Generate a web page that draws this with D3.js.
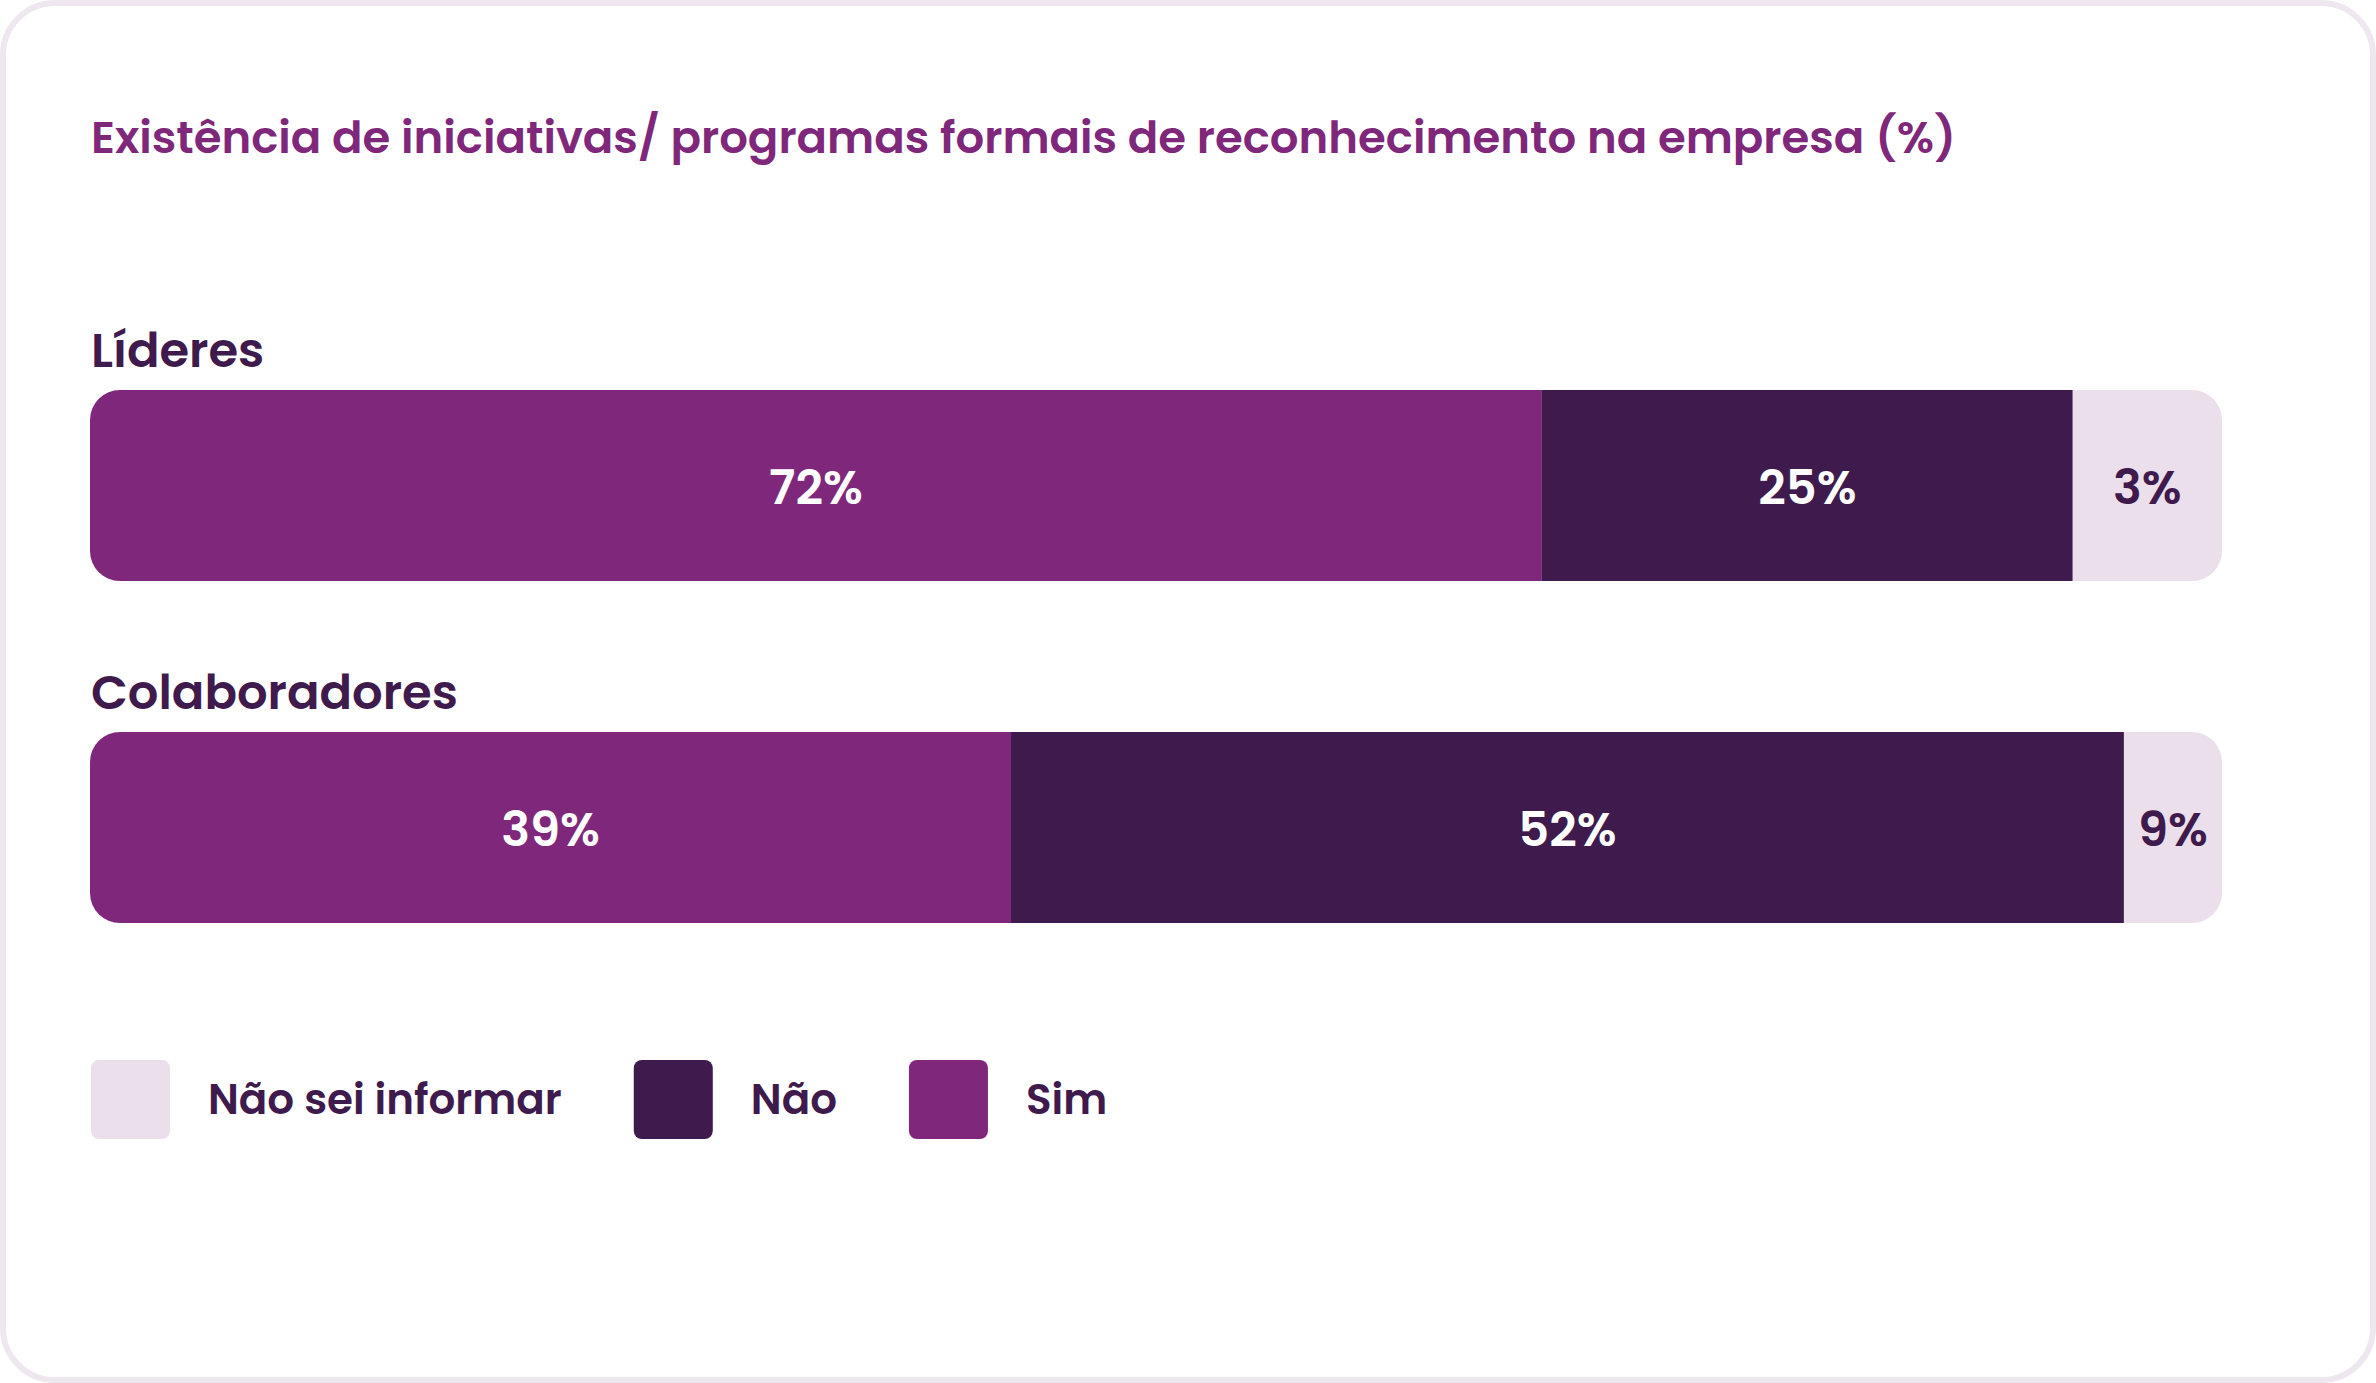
<!DOCTYPE html>
<html>
<head>
<meta charset="utf-8">
<script src="https://cdn.jsdelivr.net/npm/d3@7"></script>
<style>
    html, body { margin: 0; padding: 0; background: #fff; }
    svg { display: block; }
    text { font-family: Poppins, "Open Sans", sans-serif; font-weight: 600; }
</style>
</head>
<body>
<svg id="chart"></svg>
<script>
const TITLE = 'Existência de iniciativas/ programas formais de reconhecimento na empresa (%)'
const groups = ['Líderes', 'Colaboradores']
const keys = ['sim', 'nao', 'ns']
const legendKeys = ['ns', 'nao', 'sim']
const legendLabels = ['Não sei informar', 'Não', 'Sim']

// values printed on the bars
const simValues = [72, 39]
const naoValues = [25, 52]
const nsValues = [3, 9]

// segment lengths as they are drawn in the picture (% of the bar)
const simDrawn = [68.1, 43.2]
const naoDrawn = [24.9, 52.2]
const nsDrawn = [7.0, 4.6]

const W = 2376
const H = 1383
const COLORS = { sim: '#7f287b', nao: '#3e1a4d', ns: '#ebdfec' }
const LABEL_COLORS = { sim: '#ffffff', nao: '#ffffff', ns: '#3e1a4d' }
const DARK = '#3e1a4d'

const printed = { sim: simValues, nao: naoValues, ns: nsValues }
const rows = groups.map((g, i) => ({ group: g, sim: simDrawn[i], nao: naoDrawn[i], ns: nsDrawn[i], idx: i }))

const svg = d3.select('#chart').attr('width', W).attr('height', H)

// card
svg.append('rect')
    .attr('x', 3).attr('y', 3)
    .attr('width', W - 6).attr('height', H - 6)
    .attr('rx', 52)
    .attr('fill', '#fff')
    .attr('stroke', '#eee7ef')
    .attr('stroke-width', 6)

svg.append('text')
    .attr('x', 91).attr('y', 153)
    .attr('fill', COLORS.sim)
    .attr('font-size', 45)
    .text(TITLE)

const x = d3.scaleLinear().domain([0, 100]).range([90, 2222])
const y = d3.scaleBand().domain(groups).range([390, 923]).paddingInner(151 / 342)

const stacked = d3.stack().keys(keys)(rows)

const defs = svg.append('defs')
groups.forEach((g, i) => {
    defs.append('clipPath').attr('id', 'clip-' + i)
        .append('rect')
        .attr('x', x(0)).attr('y', y(g))
        .attr('width', x(100) - x(0)).attr('height', y.bandwidth())
        .attr('rx', 30)
})

const rowG = svg.selectAll('.row')
    .data(rows)
    .join('g')
    .attr('class', 'row')

rowG.append('text')
    .attr('x', 91)
    .attr('y', d => y(d.group) - 23)
    .attr('fill', DARK)
    .attr('font-size', 48)
    .text(d => d.group)

const segG = rowG.append('g').attr('clip-path', d => `url(#clip-${d.idx})`)

stacked.forEach(layer => {
    const key = layer.key
    layer.forEach((s, i) => {
        const g = groups[i]
        segG.filter(d => d.idx === i)
            .append('rect')
            .attr('x', x(s[0]))
            .attr('y', y(g))
            .attr('width', x(s[1]) - x(s[0]))
            .attr('height', y.bandwidth())
            .attr('fill', COLORS[key])

        svg.append('text')
            .attr('x', (x(s[0]) + x(s[1])) / 2)
            .attr('y', y(g) + y.bandwidth() / 2)
            .attr('dy', '0.38em')
            .attr('text-anchor', 'middle')
            .attr('fill', LABEL_COLORS[key])
            .attr('font-size', 48)
            .text(printed[key][i] + '%')
    })
})

// legend
const legend = svg.append('g').attr('transform', 'translate(91,1060)')
let lx = 0
legendKeys.forEach((k, i) => {
    const item = legend.append('g').attr('transform', `translate(${lx},0)`)
    item.append('rect')
        .attr('width', 79).attr('height', 79)
        .attr('rx', 8)
        .attr('fill', COLORS[k])
    const t = item.append('text')
        .attr('x', 117)
        .attr('y', 39)
        .attr('dy', '0.36em')
        .attr('fill', DARK)
        .attr('font-size', 42)
        .text(legendLabels[i])
    lx += 117 + t.node().getComputedTextLength() + 72
})
</script>
</body>
</html>
